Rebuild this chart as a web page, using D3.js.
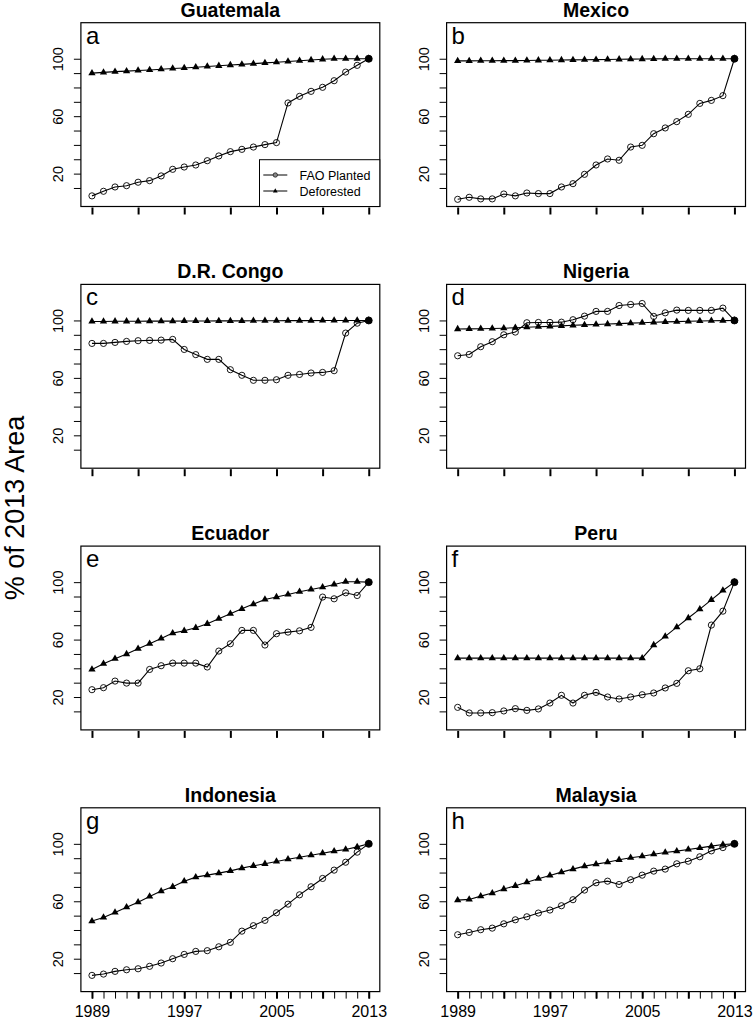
<!DOCTYPE html>
<html>
<head>
<meta charset="utf-8">
<script src="https://cdn.jsdelivr.net/npm/d3@7"></script>
<style>
  body { margin: 0; background: #fff; }
  svg { display: block; font-family: "Liberation Sans", Arial, Helvetica, sans-serif; }
</style>
</head>
<body>
<svg width="753" height="1019"></svg>
<script>
// years on the x axis
const years = d3.range(1989, 2014)
const countries = ['Guatemala', 'Mexico', 'D.R. Congo', 'Nigeria', 'Ecuador', 'Peru', 'Indonesia', 'Malaysia']
const letters = ['a', 'b', 'c', 'd', 'e', 'f', 'g', 'h']

// FAO planted area, % of 2013
const faoGuatemala = [4.5, 7.7, 10.7, 11.6, 14.0, 15.1, 18.4, 23.0, 24.6, 26.0, 29.0, 32.3, 35.3, 36.9, 38.5, 40.2, 41.6, 69.2, 73.8, 77.3, 80.1, 84.7, 90.7, 95.4, 100]
const faoMexico = [2.1, 3.5, 2.4, 2.4, 5.8, 4.5, 6.5, 6.1, 6.1, 10.7, 13.0, 19.5, 26.0, 30.2, 29.3, 38.5, 39.7, 47.8, 51.8, 56.2, 61.3, 68.9, 71.0, 74.3, 100]
const faoCongo = [84.0, 84.0, 84.7, 85.4, 85.9, 86.1, 86.3, 86.8, 79.8, 76.2, 72.9, 72.9, 65.7, 61.8, 58.3, 58.3, 58.7, 61.8, 62.4, 63.4, 63.8, 65.0, 91.2, 98.1, 100]
const faoNigeria = [75.4, 76.3, 81.7, 85.2, 90.0, 91.9, 98.4, 98.6, 98.6, 98.8, 100.5, 103.0, 106.3, 106.3, 110.4, 111.1, 111.8, 102.8, 105.3, 107.2, 107.0, 107.0, 107.0, 108.6, 100]
const faoEcuador = [25.1, 26.5, 31.1, 29.7, 29.7, 39.2, 41.8, 43.6, 43.6, 43.6, 40.9, 52.0, 57.1, 66.4, 66.4, 56.2, 64.1, 65.2, 66.1, 68.5, 89.6, 88.4, 92.6, 90.7, 100]
const faoPeru = [12.8, 8.9, 8.9, 9.1, 10.3, 11.9, 10.7, 11.7, 15.8, 21.2, 15.8, 21.2, 23.2, 20.0, 18.6, 20.0, 21.6, 22.8, 26.3, 29.5, 38.3, 39.7, 70.1, 79.8, 100]
const faoIndonesia = [8.4, 9.3, 11.2, 12.3, 13.0, 14.7, 17.0, 20.0, 23.0, 25.1, 25.6, 28.3, 31.4, 39.2, 43.0, 46.7, 52.0, 58.0, 64.5, 70.1, 75.9, 81.7, 87.2, 94.2, 100]
const faoMalaysia = [36.7, 38.3, 40.2, 41.3, 44.3, 47.1, 49.2, 51.8, 53.9, 56.9, 61.1, 67.8, 72.9, 74.0, 71.7, 75.0, 78.2, 81.0, 82.4, 86.1, 87.9, 91.0, 95.1, 97.4, 100]

// deforested area, % of 2013
const defGuatemala = [90.0, 90.5, 91.0, 91.4, 91.8, 92.2, 92.7, 93.2, 93.6, 94.1, 94.6, 95.1, 95.6, 96.1, 96.6, 97.1, 97.6, 98.1, 98.6, 99.1, 99.6, 100, 100, 100, 100]
const defMexico = [98.5, 98.5, 98.6, 98.6, 98.7, 98.7, 98.8, 98.9, 99.0, 99.1, 99.2, 99.3, 99.4, 99.5, 99.6, 99.7, 99.8, 99.9, 100, 100, 100, 100, 100, 100, 100]
const defCongo = [99.3, 99.3, 99.4, 99.4, 99.4, 99.5, 99.5, 99.5, 99.6, 99.6, 99.6, 99.7, 99.7, 99.7, 99.8, 99.8, 99.8, 99.9, 99.9, 99.9, 100, 100, 100, 100, 100]
const defNigeria = [94.0, 94.1, 94.2, 94.4, 94.6, 94.9, 95.3, 95.6, 95.9, 96.2, 96.6, 96.9, 97.2, 97.5, 97.8, 98.1, 98.4, 98.7, 99.0, 99.2, 99.4, 99.6, 99.8, 99.9, 100]
const defEcuador = [39.2, 43.2, 46.7, 49.9, 53.6, 57.1, 60.8, 64.5, 66.1, 68.2, 71.0, 74.5, 78.0, 81.4, 84.7, 87.9, 89.6, 91.4, 93.3, 94.9, 96.5, 98.4, 100.3, 100.3, 100]
const defPeru = [47.1, 47.1, 47.1, 47.1, 47.1, 47.1, 47.1, 47.1, 47.1, 47.1, 47.1, 47.1, 47.1, 47.1, 47.1, 47.1, 47.1, 56.2, 62.2, 68.7, 75.0, 81.2, 87.7, 94.2, 100]
const defIndonesia = [46.2, 48.7, 52.2, 55.9, 59.4, 63.4, 67.1, 70.1, 74.0, 76.8, 78.2, 79.6, 81.2, 83.1, 84.7, 86.1, 87.7, 89.3, 90.7, 92.1, 93.5, 94.9, 96.1, 97.9, 100]
const defMalaysia = [60.8, 61.3, 63.6, 65.7, 68.5, 70.8, 73.3, 75.7, 78.0, 80.3, 82.4, 84.5, 85.9, 87.2, 88.9, 90.3, 91.4, 92.8, 94.0, 94.9, 96.1, 97.2, 98.4, 99.5, 100]

const faoPlanted = [faoGuatemala, faoMexico, faoCongo, faoNigeria, faoEcuador, faoPeru, faoIndonesia, faoMalaysia]
const deforested = [defGuatemala, defMexico, defCongo, defNigeria, defEcuador, defPeru, defIndonesia, defMalaysia]

// tick values / labels
const yTicks = [10, 20, 30, 40, 50, 60, 70, 80, 90, 100]
const yLabels = [20, 60, 100]
const xMajor = [1989, 1993, 1997, 2001, 2005, 2009, 2013]
const xLabels = [1989, 1997, 2005, 2013]
const legendNames = ['FAO Planted', 'Deforested']

let svg = d3.select('svg')
svg.append('rect').attr('width', 753).attr('height', 1019).attr('fill', '#fff')

//panel geometry
let colLeft = [80.9, 446.6],
    boxW = 298.9,
    rowTop0 = 22.7,
    rowStep = 261.7,
    boxH = 183.8

let triangle = d3.symbol().type(d3.symbolTriangle).size(23)

countries.forEach((country, i) => {
    let col = i % 2, row = Math.floor(i / 2)
    let left = colLeft[col], top = rowTop0 + row * rowStep
    let bottom = top + boxH
    let isBottom = row === 3

    let xScale = d3.scaleLinear().domain([1988.04, 2013.96]).range([left, left + boxW])
    let yScale = d3.scaleLinear().domain([-2.9, 125.1]).range([bottom, top])

    let g = svg.append('g').attr('class', 'panel')

    //title
    g.append('text')
        .attr('x', left + boxW / 2)
        .attr('y', top - 6)
        .attr('text-anchor', 'middle')
        .attr('font-weight', 'bold')
        .attr('font-size', '19.5px')
        .text(country)

    //y axis
    let yAxis = g.append('g')
        .attr('transform', 'translate(' + left + ',0)')
        .call(d3.axisLeft(yScale).tickValues(yTicks).tickSize(7).tickSizeOuter(0)
            .tickFormat(d => yLabels.includes(d) ? d : ''))
    yAxis.select('.domain').remove()
    yAxis.selectAll('line').attr('stroke', '#000').attr('stroke-width', 1)
    yAxis.selectAll('text')
        .attr('transform', 'rotate(-90)')
        .attr('x', 0)
        .attr('y', -17.5)
        .attr('dy', 0)
        .attr('text-anchor', 'middle')
        .attr('font-size', '14.5px')
        .attr('font-family', null)
        .attr('fill', '#000')

    //x axis: minor yearly ticks only on the bottom row
    if (isBottom) {
        let minor = g.append('g')
            .attr('transform', 'translate(0,' + bottom + ')')
            .call(d3.axisBottom(xScale).tickValues(years).tickSize(7).tickSizeOuter(0).tickFormat(''))
        minor.select('.domain').remove()
        minor.selectAll('line').attr('stroke', '#000').attr('stroke-width', 1)
    }
    let xAxis = g.append('g')
        .attr('transform', 'translate(0,' + (bottom + (isBottom ? 0 : 1)) + ')')
        .call(d3.axisBottom(xScale).tickValues(xMajor).tickSize(7).tickSizeOuter(0)
            .tickFormat(d => isBottom && xLabels.includes(d) ? d : ''))
    xAxis.select('.domain').remove()
    xAxis.selectAll('line').attr('stroke', '#000').attr('stroke-width', 2)
    xAxis.selectAll('text')
        .attr('y', 0)
        .attr('dy', 0)
        .attr('transform', 'translate(0,25.5)')
        .attr('font-size', '16px')
        .attr('font-family', null)
        .attr('fill', '#000')

    let line = d3.line().x((d, k) => xScale(years[k])).y(d => yScale(d))

    //deforested series: line + filled triangles
    g.append('path')
        .datum(deforested[i])
        .attr('d', line)
        .attr('fill', 'none')
        .attr('stroke', '#000')
        .attr('stroke-width', 1.1)
    g.selectAll('.tri')
        .data(deforested[i])
        .enter()
        .append('path')
        .attr('class', 'tri')
        .attr('d', triangle)
        .attr('transform', (d, k) => 'translate(' + xScale(years[k]) + ',' + yScale(d) + ')')
        .attr('fill', '#000')

    //FAO planted series: line + open circles
    g.append('path')
        .datum(faoPlanted[i])
        .attr('d', line)
        .attr('fill', 'none')
        .attr('stroke', '#000')
        .attr('stroke-width', 1.1)
    g.selectAll('.circ')
        .data(faoPlanted[i])
        .enter()
        .append('circle')
        .attr('class', 'circ')
        .attr('cx', (d, k) => xScale(years[k]))
        .attr('cy', d => yScale(d))
        .attr('r', (d, k) => k === years.length - 1 ? 3.5 : 3.1)
        .attr('fill', (d, k) => k === years.length - 1 ? '#000' : 'none')
        .attr('stroke', '#000')
        .attr('stroke-width', 0.9)

    //box
    g.append('rect')
        .attr('x', left)
        .attr('y', top)
        .attr('width', boxW)
        .attr('height', boxH)
        .attr('fill', 'none')
        .attr('stroke', '#000')
        .attr('stroke-width', 1.2)

    //panel letter
    g.append('text')
        .attr('x', left + 5)
        .attr('y', top + 21)
        .attr('font-size', '24px')
        .text(letters[i])

    //legend in the first panel
    if (i === 0) {
        let lg = g.append('g').attr('class', 'legend')
        lg.append('rect')
            .attr('x', 259.5)
            .attr('y', 159.7)
            .attr('width', left + boxW - 259.5)
            .attr('height', bottom - 159.7)
            .attr('fill', '#fff')
            .attr('stroke', '#000')
            .attr('stroke-width', 1)
        legendNames.forEach((name, k) => {
            let ly = 175 + k * 16
            lg.append('line')
                .attr('x1', 263.3).attr('x2', 287.3)
                .attr('y1', ly).attr('y2', ly)
                .attr('stroke', '#000')
                .attr('stroke-width', 1)
            if (k === 0) {
                lg.append('circle')
                    .attr('cx', 275.3).attr('cy', ly).attr('r', 2.2)
                    .attr('fill', '#888').attr('stroke', '#222').attr('stroke-width', 0.8)
            } else {
                lg.append('path')
                    .attr('d', d3.symbol().type(d3.symbolTriangle).size(10))
                    .attr('transform', 'translate(275.3,' + ly + ')')
                    .attr('fill', '#000')
            }
            lg.append('text')
                .attr('x', 299.5)
                .attr('y', ly)
                .attr('dy', '0.36em')
                .attr('font-size', '12.5px')
                .text(name)
        })
    }
})

//shared y label
svg.append('text')
    .attr('transform', 'translate(24,508) rotate(-90)')
    .attr('text-anchor', 'middle')
    .attr('font-size', '27px')
    .text('% of 2013 Area')
</script>
</body>
</html>
